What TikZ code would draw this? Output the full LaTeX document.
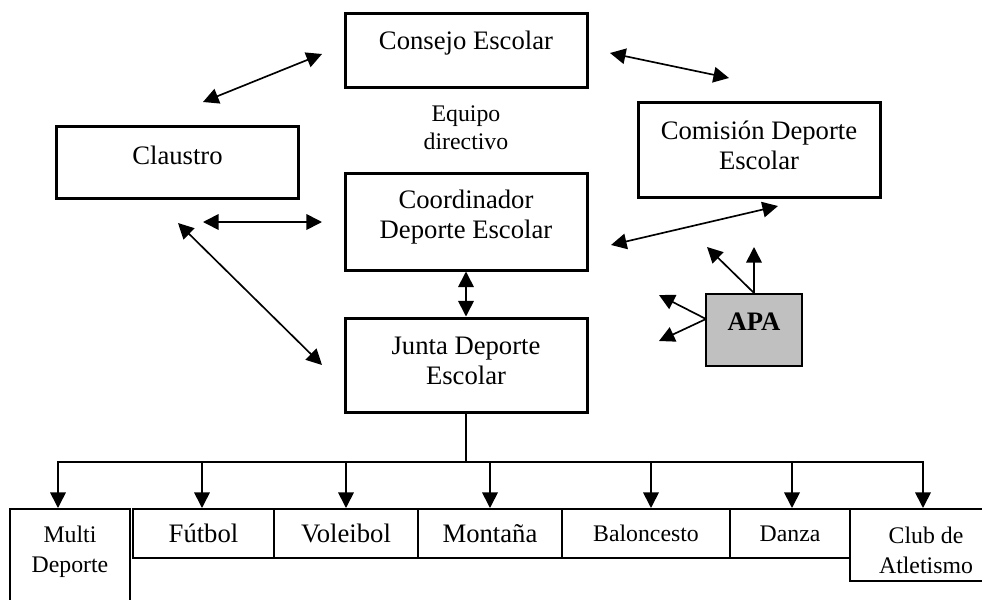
\documentclass[tikz,border=0pt]{standalone}
\usepackage{fontspec}
\setmainfont{Liberation Serif}
\usetikzlibrary{arrows.meta}
\definecolor{apagray}{RGB}{192,192,192}

\tikzstyle{bigbox} = [rectangle, draw, line width=1.35pt, minimum width=108.9pt, inner sep=0]
\tikzstyle{cell} = [rectangle, draw, line width=0.9pt, minimum height=22.05pt, inner sep=0]
\tikzstyle{apabox} = [rectangle, draw, line width=0.9pt, fill=apagray, minimum width=43.2pt, minimum height=32.4pt]
\tikzstyle{txt} = [align=center, inner sep=0, font=\fontsize{12}{13.5}\selectfont]
\tikzstyle{smalltxt} = [align=center, inner sep=0, font=\fontsize{10.7}{13.5}\selectfont]
\tikzstyle{arr} = [line width=0.75pt]

\begin{document}
\begin{tikzpicture}[x=0.45pt, y=-0.45pt, >={Triangle[length=7pt, width=7pt]}]
  \useasboundingbox (0, 0) rectangle (982, 600);
  \clip (0, 0) rectangle (982, 600);
  % upper boxes
  \node[bigbox, minimum height=33.3pt] (consejo) at (466, 50) {};
  \node[bigbox, minimum width=108.45pt, minimum height=32.4pt] (claustro) at (177.5, 162) {};
  \node[bigbox, minimum height=43.65pt] (coord) at (466, 221.5) {};
  \node[bigbox, minimum height=42.75pt] (comision) at (759, 149.5) {};
  \node[bigbox, minimum height=42.3pt] (junta) at (466, 365) {};
  \node[apabox] (apa) at (754, 330) {};
  \node[txt] (consejotxt) at (466, 43) {Consejo Escolar};
  \node[txt] (claustrotxt) at (177.5, 155) {Claustro};
  \node[smalltxt, font=\fontsize{10.7}{12.6}\selectfont] (equipo) at (466, 128) {Equipo\\directivo};
  \node[txt] (coordtxt) at (466, 217) {Coordinador\\Deporte Escolar};
  \node[txt] (comisiontxt) at (759, 145) {Comisión Deporte\\Escolar};
  \node[txt] (juntatxt) at (466, 361) {Junta Deporte\\Escolar};
  \node[txt, font=\fontsize{12}{13.5}\selectfont\bfseries] (apatxt) at (754, 322) {APA};

  % bottom row
  \node[cell, minimum width=54pt, minimum height=49.95pt] (multi) at (70, 564.5) {};
  \node[cell, txt, minimum width=63.45pt] (futbol) at (203.5, 533.5) {Fútbol};
  \node[cell, txt, minimum width=64.8pt] (voleibol) at (346, 533.5) {Voleibol};
  \node[cell, txt, minimum width=64.8pt] (montana) at (490, 533.5) {Montaña};
  \node[cell, smalltxt, minimum width=75.6pt] (baloncesto) at (646, 533.5) {Baloncesto};
  \node[cell, smalltxt, minimum width=54pt] (danza) at (790, 533.5) {Danza};
  \node[cell, minimum width=68.4pt, minimum height=32.4pt] (club) at (926, 545) {};
  \node[smalltxt] (multitxt) at (70, 552) {Multi\\Deporte};
  \node[smalltxt] (clubtxt) at (926, 550) {Club de\\Atletismo};

  % free arrow ends
  \coordinate (claustroUp) at (203, 102);
  \coordinate (consejoL) at (322, 54);
  \coordinate (consejoR) at (610, 53);
  \coordinate (comisionUp) at (729, 78);
  \coordinate (claustroR) at (203, 222);
  \coordinate (coordL) at (322, 222);
  \coordinate (claustroDn) at (178, 223);
  \coordinate (juntaL) at (322, 365);
  \coordinate (coordR) at (611, 245);
  \coordinate (comisionDn) at (778, 206);
  \coordinate (apaW) at (706, 319);
  \coordinate (apaUp) at (754, 247);
  \coordinate (apaUpL) at (707, 247);
  \coordinate (apaL1) at (659, 295);
  \coordinate (apaL2) at (659, 341);
  \coordinate (bus) at (466, 462);

  \draw[arr, <->] (claustroUp) -- (consejoL);
  \draw[arr, <->] (consejoR) -- (comisionUp);
  \draw[arr, <->] (claustroR) -- (coordL);
  \draw[arr, <->] (claustroDn) -- (juntaL);
  \draw[arr, <->] (coordR) -- (comisionDn);
  \draw[arr, <->] (coord) -- (junta);
  \draw[arr, ->] (apa.north) -- (apaUp);
  \draw[arr, ->] (apa.north) -- (apaUpL);
  \draw[arr, ->] (apaW) -- (apaL1);
  \draw[arr, ->] (apaW) -- (apaL2);
  \draw[arr] (junta.south) -- (bus);
  \foreach \n/\x in {multi/58, futbol/202, voleibol/346, montana/490, baloncesto/651, danza/792, club/923} {
    \draw[arr, ->] (bus) -| (\n.north -| \x, 0);
  }
\end{tikzpicture}
\end{document}
